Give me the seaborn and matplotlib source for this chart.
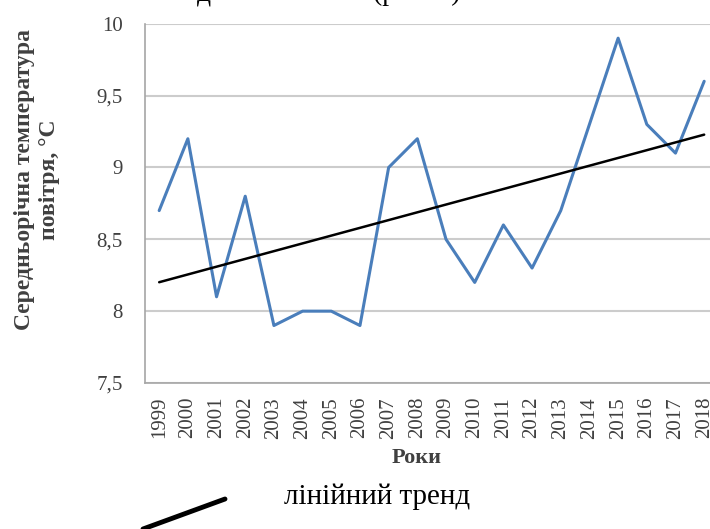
import matplotlib.pyplot as plt
import pandas as pd
import seaborn as sns
from matplotlib.lines import Line2D

# дані з графіка
years = list(range(1999, 2019))
temps = [8.7, 9.2, 8.1, 8.8, 7.9, 8.0, 8.0, 7.9, 9.0, 9.2,
         8.5, 8.2, 8.6, 8.3, 8.7, 9.3, 9.9, 9.3, 9.1, 9.6]
y_ticks = [7.5, 8, 8.5, 9, 9.5, 10]
y_tick_labels = ['7,5', '8', '8,5', '9', '9,5', '10']

df = pd.DataFrame({'year': years, 'temp': temps})

sns.set_theme(style='white')
plt.rcParams['font.family'] = ['Liberation Serif', 'DejaVu Serif']

fig = plt.figure(figsize=(7.1, 5.29), dpi=100)
ax = fig.add_axes([0.204, 0.276, 0.808, 0.679])

sns.lineplot(data=df, x='year', y='temp', color='#4a7ebb', linewidth=2.2, ax=ax, zorder=3)
sns.regplot(data=df, x='year', y='temp', scatter=False, ci=None, ax=ax,
            line_kws={'color': 'black', 'linewidth': 1.8, 'zorder': 4})

ax.set_xlim(years[0] - 0.5, years[-1] + 0.5)
ax.set_ylim(7.5, 10)
ax.set_yticks(y_ticks)
ax.set_yticklabels(y_tick_labels, fontsize=15, color='#404040')
ax.set_xticks(years)
ax.set_xticklabels([str(y) for y in years], rotation=90, fontsize=15, color='#404040')
ax.set_xticks([y - 0.5 for y in years] + [years[-1] + 0.5], minor=True)
ax.tick_params(axis='x', which='major', length=0, pad=10)
ax.tick_params(axis='x', which='minor', length=6, width=1, color='#a6a6a6', direction='out')
ax.tick_params(axis='y', length=6, width=1, color='#a6a6a6', direction='out', pad=10)

ax.grid(axis='y', color='#cccccc', linewidth=1.5)
ax.set_axisbelow(True)
for side in ['top', 'right']:
    ax.spines[side].set_visible(False)
for side in ['left', 'bottom']:
    ax.spines[side].set_color('#a6a6a6')
    ax.spines[side].set_linewidth(1.2)

ax.set_xlabel('')
ax.set_ylabel('')
fig.text(37 / 710, 1 - 180 / 529, 'Середньорічна температура\nповітря, °С',
         rotation=90, ha='center', va='center', fontsize=17, fontweight='bold',
         color='#404040', linespacing=1.25, multialignment='center')

fig.text(417 / 710, 1 - 458 / 529, 'Роки', ha='center', va='center',
         fontsize=16, fontweight='bold', color='#404040')

# фрагмент легенди внизу
fig.add_artist(Line2D([143 / 710, 225 / 710], [0, 30 / 529],
                      transform=fig.transFigure, color='black', linewidth=3.5))
fig.text(377 / 710, 1 - 497 / 529, 'лінійний тренд', ha='center', va='center',
         fontsize=21, color='black')

# обрізаний рядок тексту вгорі
fig.text(197 / 710, 1 - 6 / 529, 'д', ha='left', va='bottom', fontsize=20, color='black')
fig.text(373 / 710, 1 - 6 / 529, '(рис. 2)', ha='left', va='bottom', fontsize=20, color='black')

fig.savefig('out.png', dpi=100)
